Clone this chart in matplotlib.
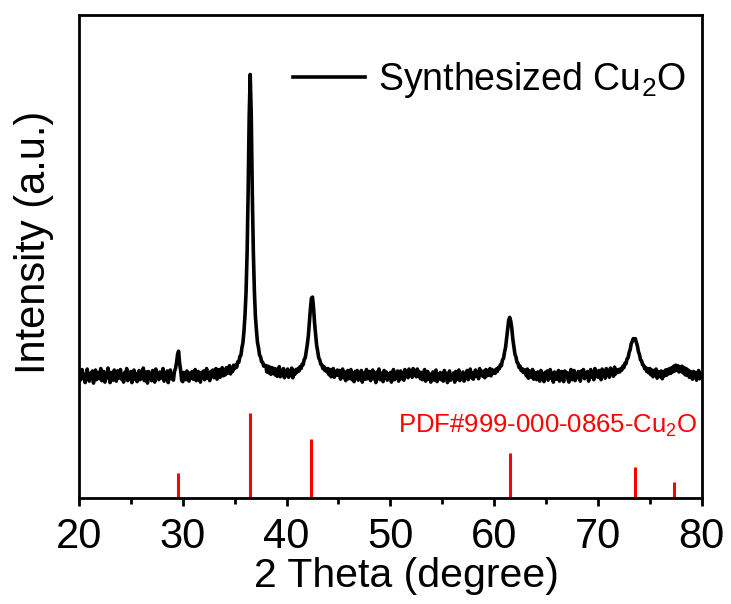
import matplotlib.pyplot as plt
import numpy as np
from matplotlib.ticker import MultipleLocator

plt.rcParams['font.family'] = ['Liberation Sans', 'DejaVu Sans']
plt.rcParams['mathtext.default'] = 'regular'

# XRD scan, 20-80 deg, 0.1 deg step (one row per degree)
two_theta = np.linspace(20, 80, 601)
intensity = [
    262, 243, 256, 266, 247, 254, 239, 259, 267, 248,  # 20
    242, 258, 250, 263, 238, 255, 265, 245, 251, 260,
    247, 268, 243, 254, 262, 240, 257, 249, 269, 250,
    239, 260, 251, 244, 265, 255, 242, 263, 248, 258,
    266, 246, 253, 240, 260, 250, 268, 243, 256, 249,
    262, 239, 255, 265, 246, 258, 241, 252, 264, 245,  # 25
    257, 248, 269, 243, 254, 261, 238, 262, 250, 255,
    243, 264, 251, 240, 267, 249, 258, 245, 261, 253,
    248, 268, 242, 257, 250, 263, 239, 258, 265, 247,
    255, 244, 262, 268, 280, 297, 304, 279, 264, 243,
    241, 260, 251, 245, 263, 253, 242, 259, 248, 262,  # 30
    246, 257, 266, 243, 254, 262, 248, 240, 260, 251,
    263, 245, 255, 268, 248, 258, 243, 262, 252, 265,
    249, 260, 268, 246, 256, 266, 250, 262, 270, 253,
    263, 255, 270, 258, 266, 274, 257, 270, 262, 275,
    268, 275, 271, 282, 281, 293, 295, 311, 322, 346,  # 35
    380, 427, 508, 634, 790, 877, 792, 632, 510, 429,
    376, 347, 322, 311, 296, 292, 282, 281, 273, 275,
    274, 261, 273, 259, 271, 256, 270, 258, 268, 255,
    267, 252, 264, 272, 251, 263, 255, 268, 249, 262,
    257, 267, 250, 262, 254, 269, 249, 263, 256, 266,  # 40
    260, 268, 263, 272, 268, 277, 276, 287, 290, 304,
    318, 336, 364, 392, 414, 416, 394, 362, 338, 316,
    304, 290, 286, 277, 276, 268, 272, 264, 268, 261,
    268, 255, 266, 251, 263, 268, 250, 262, 255, 265,
    254, 264, 246, 259, 267, 249, 261, 243, 257, 264,  # 45
    247, 259, 266, 245, 256, 241, 262, 252, 264, 244,
    258, 249, 264, 240, 259, 252, 246, 266, 247, 256,
    262, 243, 254, 265, 247, 258, 239, 261, 251, 267,
    245, 259, 253, 241, 264, 249, 261, 244, 256, 248,
    260, 240, 254, 266, 245, 258, 249, 263, 242, 253,  # 50
    263, 247, 257, 244, 266, 252, 261, 249, 267, 254,
    262, 250, 268, 254, 264, 251, 267, 253, 261, 247,
    260, 245, 255, 266, 242, 253, 262, 246, 257, 240,
    251, 261, 244, 256, 265, 241, 254, 247, 260, 245,
    256, 242, 264, 249, 258, 239, 253, 263, 244, 255,  # 55
    248, 259, 240, 262, 251, 246, 265, 243, 257, 249,
    261, 242, 254, 248, 264, 245, 257, 267, 249, 259,
    246, 258, 265, 252, 261, 247, 268, 254, 262, 252,
    263, 249, 266, 253, 264, 255, 268, 253, 266, 258,
    264, 258, 267, 262, 270, 268, 276, 274, 286, 289,  # 60
    302, 312, 331, 349, 368, 374, 366, 351, 329, 314,
    298, 292, 281, 279, 270, 273, 264, 268, 260, 265,
    265, 253, 267, 248, 263, 256, 250, 266, 246, 260,
    258, 245, 261, 252, 242, 264, 249, 256, 241, 260,
    251, 263, 244, 254, 266, 248, 258, 240, 261, 253,  # 65
    246, 256, 264, 242, 253, 262, 249, 241, 263, 254,
    260, 247, 240, 257, 266, 245, 254, 264, 243, 256,
    249, 262, 253, 242, 263, 256, 266, 247, 258, 251,
    262, 242, 256, 266, 250, 259, 245, 268, 253, 262,
    250, 264, 256, 245, 267, 253, 261, 248, 268, 256,  # 70
    262, 250, 269, 256, 264, 252, 271, 257, 265, 260,
    266, 261, 268, 265, 273, 270, 279, 278, 288, 290,
    301, 307, 319, 324, 330, 328, 330, 322, 315, 303,
    297, 286, 284, 276, 275, 268, 270, 262, 268, 259,
    268, 255, 265, 251, 264, 255, 267, 248, 262, 254,  # 75
    251, 263, 247, 261, 253, 265, 254, 266, 257, 268,
    258, 270, 261, 273, 263, 275, 265, 274, 261, 271,
    262, 273, 259, 270, 255, 268, 254, 265, 250, 262,
    258, 246, 262, 250, 260, 244, 256, 264, 247, 258,
    253,  # 80
]

# reference pattern lines
ref_pos = [29.55, 36.5, 42.4, 61.5, 73.55, 77.35]
ref_int = [52, 176, 122, 93, 64, 33]

fig, ax = plt.subplots(figsize=(7.31, 6.04), dpi=100)
fig.subplots_adjust(left=0.108, right=0.960, bottom=0.1755, top=0.975)

ax.plot(two_theta, intensity, color='black', lw=2.6, label='Synthesized Cu$_2$O')
ax.vlines(ref_pos, 0, ref_int, color='red', lw=2.2)
ax.text(0.9936, 0.1346, 'PDF#999-000-0865-Cu$_2$O', color='red',
        fontsize=18.5, ha='right', va='baseline', transform=ax.transAxes)

ax.set_xlim(20, 80)
ax.set_ylim(0, 1000)
ax.xaxis.set_major_locator(MultipleLocator(10))
ax.xaxis.set_minor_locator(MultipleLocator(5))
ax.set_yticks([])
ax.tick_params(axis='x', which='major', direction='out', length=6, width=2,
               labelsize=30, pad=8)
ax.tick_params(axis='x', which='minor', direction='out', length=4, width=2)
for sp in ax.spines.values():
    sp.set_linewidth(2)

ax.set_xlabel('2 Theta (degree)', fontsize=29.5, labelpad=0)
ax.xaxis.label.set_x(0.5265)
ax.set_ylabel('Intensity (a.u.)', fontsize=30, labelpad=18)
ax.yaxis.label.set_y(0.53)

ax.legend(loc='center left', bbox_to_anchor=(0.3435, 0.865), frameon=False,
          fontsize=27, handlelength=1.92, handletextpad=0.35,
          borderpad=0, borderaxespad=0)

fig.savefig('out.png', dpi=100)
